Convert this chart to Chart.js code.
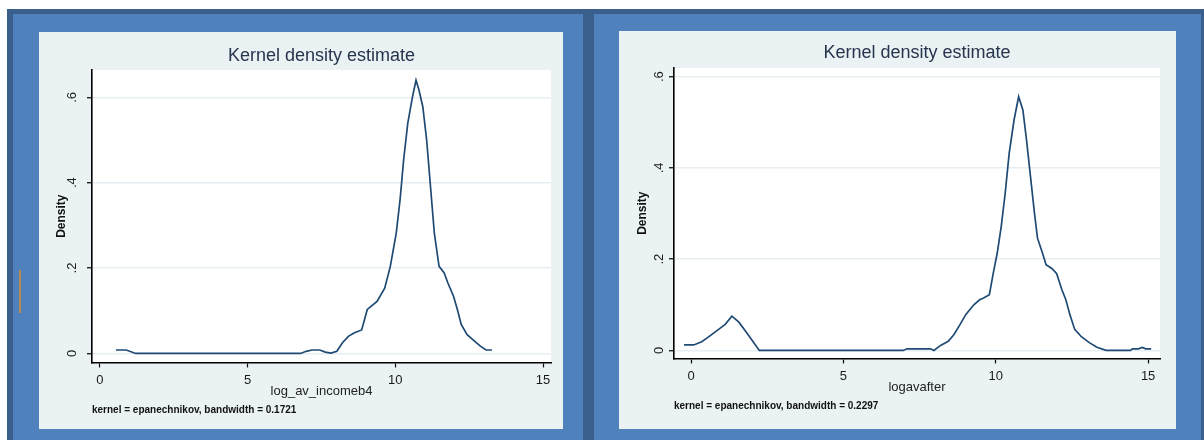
<!DOCTYPE html>
<html>
<head>
<meta charset="utf-8">
<script src="https://cdn.jsdelivr.net/npm/chart.js@4/dist/chart.umd.min.js"></script>
<style>
  body { margin: 0; width: 1204px; height: 440px; background: #fff; position: relative; overflow: hidden; }
  .dark { position: absolute; left: 7px; top: 9px; width: 1197px; height: 431px; background: #3a5f8d; }
  .blue { position: absolute; background: #4f81bd; }
  .panel { position: absolute; background: #eaf2f3; }
  .panel canvas { position: absolute; left: 0; top: 0; }
  .mark { position: absolute; left: 19px; top: 270px; width: 2px; height: 43px; background: #b98a4e; }
</style>
</head>
<body>
<div class="dark"></div>
<div class="blue" style="left:13px;top:14px;width:570px;height:426px"></div>
<div class="blue" style="left:594px;top:14px;width:607px;height:426px"></div>
<div class="mark"></div>
<div class="panel" style="left:39px;top:32px;width:524px;height:397px"><canvas id="beforeChart"></canvas></div>
<div class="panel" style="left:619px;top:31px;width:557px;height:398px"><canvas id="afterChart"></canvas></div>

<script>
// قيم المنحنى الأول: log_av_incomeb4
const incomeX = [0.54, 0.89, 1.21, 6.79, 6.98, 7.18, 7.44, 7.63, 7.82, 8.02, 8.21, 8.41, 8.60, 8.86, 9.05, 9.38, 9.64, 9.83, 10.03, 10.16,
  10.28, 10.42, 10.58, 10.70, 10.80, 10.93, 11.06, 11.19, 11.32, 11.48, 11.65, 11.78, 11.97, 12.10, 12.23, 12.43, 12.68, 12.88, 13.07, 13.27];
const incomeY = [0.008, 0.008, 0, 0, 0.005, 0.008, 0.008, 0.003, 0.001, 0.005, 0.025, 0.040, 0.048, 0.055, 0.103, 0.122, 0.153, 0.204, 0.282, 0.360,
  0.453, 0.539, 0.601, 0.640, 0.617, 0.578, 0.500, 0.391, 0.282, 0.204, 0.189, 0.165, 0.134, 0.103, 0.068, 0.044, 0.029, 0.017, 0.008, 0.008];

// قيم المنحنى الثاني: logavafter
const afterX = [-0.23, 0.09, 0.35, 0.54, 0.86, 1.12, 1.34, 1.57, 1.82, 2.06, 2.24, 6.96, 7.09, 7.86, 7.97, 8.19, 8.44, 8.63, 8.83, 9.02,
  9.28, 9.47, 9.60, 9.79, 9.92, 10.05, 10.18, 10.31, 10.44, 10.60, 10.75, 10.89, 11.01, 11.14, 11.27, 11.37, 11.53, 11.65, 11.85, 12.00,
  12.17, 12.30, 12.43, 12.59, 12.81, 13.07, 13.32, 13.62, 14.42, 14.49, 14.68, 14.81, 14.92, 15.10];
const afterY = [0.012, 0.012, 0.019, 0.028, 0.044, 0.057, 0.075, 0.062, 0.039, 0.017, 0, 0, 0.0035, 0.0035, 0, 0.011, 0.020, 0.035, 0.057, 0.079,
  0.100, 0.111, 0.115, 0.122, 0.170, 0.214, 0.272, 0.345, 0.432, 0.505, 0.556, 0.527, 0.461, 0.381, 0.301, 0.246, 0.214, 0.188, 0.179, 0.168,
  0.133, 0.111, 0.079, 0.046, 0.030, 0.017, 0.007, 0, 0, 0.0035, 0.0035, 0.0065, 0.0035, 0.0035];

const xTicks = [0, 5, 10, 15];
const yTicks = [0, 0.2, 0.4, 0.6];

const FONT = "'Liberation Sans', Arial, sans-serif";
const LINE_COLOR = '#1f4a73';

// خلفية بيضاء لمنطقة الرسم
const plotBg = {
  id: 'plotBg',
  beforeDraw(chart) {
    const a = chart.chartArea;
    chart.ctx.save();
    chart.ctx.fillStyle = '#ffffff';
    chart.ctx.fillRect(a.left, a.top, a.right - a.left, a.bottom - a.top);
    chart.ctx.restore();
  }
};

function yLabel(v) {
  return v === 0 ? '0' : String(v).replace(/^0/, '');
}

function makeChart(id, xs, ys, cfg) {
  new Chart(document.getElementById(id), {
    type: 'line',
    data: {
      datasets: [{
        data: xs.map((x, i) => ({ x: x, y: ys[i] })),
        borderColor: LINE_COLOR,
        borderWidth: 1.7,
        pointRadius: 0,
        tension: 0,
        fill: false
      }]
    },
    options: {
      responsive: false,
      animation: false,
      layout: { padding: cfg.padding },
      plugins: {
        legend: { display: false },
        tooltip: { enabled: false },
        title: {
          display: true,
          text: 'Kernel density estimate',
          fullSize: false,
          color: '#27344d',
          font: { family: FONT, size: 18, weight: 'normal' },
          padding: cfg.titlePad
        },
        subtitle: {
          display: true,
          text: cfg.note,
          position: 'bottom',
          align: 'start',
          fullSize: false,
          color: '#111',
          font: { family: FONT, size: 10, weight: 'bold' },
          padding: { top: 5, bottom: 0 }
        }
      },
      scales: {
        x: {
          type: 'linear',
          min: cfg.xMin, max: cfg.xMax,
          afterBuildTicks: (s) => { s.ticks = xTicks.map(v => ({ value: v })); },
          afterFit: (s) => { s.height = 37; },
          ticks: { color: '#1a1a1a', font: { family: FONT, size: 13 }, padding: 5, maxRotation: 0, callback: (v) => String(v) },
          grid: { drawOnChartArea: false, tickColor: '#000', tickLength: 5, tickWidth: 1.2 },
          border: { display: true, color: '#000', width: 1.6 },
          title: { display: true, text: cfg.xTitle, color: '#222', font: { family: FONT, size: 13 }, padding: 0 }
        },
        y: {
          min: cfg.yMin, max: cfg.yMax,
          afterBuildTicks: (s) => { s.ticks = yTicks.map(v => ({ value: v })); },
          afterFit: (s) => { s.width = cfg.yWidth; },
          ticks: { color: '#1a1a1a', font: { family: FONT, size: 13 }, padding: cfg.yTickPad, minRotation: 90, maxRotation: 90, crossAlign: 'center', callback: yLabel },
          grid: { color: '#e6eef1', lineWidth: 1.5, tickColor: '#000', tickLength: 5, tickWidth: 1.2 },
          border: { display: true, color: '#000', width: 1.6 },
          title: { display: true, text: 'Density', color: '#111', font: { family: FONT, size: 12, weight: 'bold' }, padding: 0 }
        }
      }
    },
    plugins: [plotBg]
  });
}

function sizeCanvas(id) {
  const c = document.getElementById(id);
  c.width = c.parentElement.clientWidth;
  c.height = c.parentElement.clientHeight;
}

sizeCanvas('beforeChart');
sizeCanvas('afterChart');

makeChart('beforeChart', incomeX, incomeY, {
  padding: { left: 15, right: 12, top: 0, bottom: 12.6 },
  titlePad: { top: 13.2, bottom: 3.2 },
  yWidth: 38, yTickPad: 9,
  xMin: -0.27, xMax: 15.27, yMin: -0.021, yMax: 0.664,
  xTitle: 'log_av_incomeb4',
  note: 'kernel = epanechnikov, bandwidth = 0.1721'
});

makeChart('afterChart', afterX, afterY, {
  padding: { left: 16, right: 16, top: 0, bottom: 16.6 },
  titlePad: { top: 11.5, bottom: 3.9 },
  yWidth: 39, yTickPad: 4,
  xMin: -0.56, xMax: 15.39, yMin: -0.0175, yMax: 0.619,
  xTitle: 'logavafter',
  note: 'kernel = epanechnikov, bandwidth = 0.2297'
});
</script>
</body>
</html>
